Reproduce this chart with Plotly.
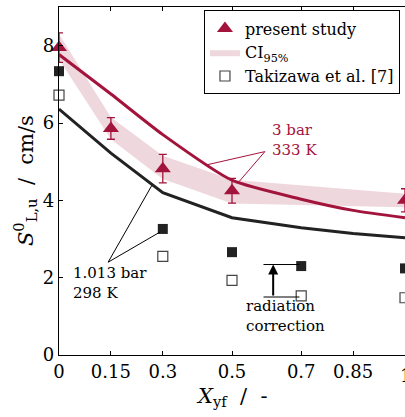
import plotly.graph_objects as go

RED = "#A3143C"
BAND = "rgba(163,20,60,0.17)"
DARK = "#222222"
FONT = "DejaVu Serif"

# present study
x_ps = [0, 0.15, 0.3, 0.5, 1.0]
y_ps = [7.95, 5.86, 4.82, 4.25, 4.0]
err_ps = [0.38, 0.28, 0.37, 0.32, 0.30]

# 95% confidence band
x_ci = [0, 0.15, 0.3, 0.5, 1.0]
ci_hi = [8.30, 6.15, 5.15, 4.53, 4.17]
ci_lo = [7.65, 5.58, 4.55, 3.92, 3.82]

# model curves
x_mod = [0, 0.15, 0.3, 0.5, 0.7, 0.85, 1.0]
y_3bar = [7.77, 6.75, 5.70, 4.52, 4.03, 3.74, 3.55]
y_1bar = [6.36, 5.22, 4.20, 3.55, 3.29, 3.14, 3.03]

# Takizawa et al.
x_tk = [0, 0.3, 0.5, 0.7, 1.0]
y_tk_corr = [7.34, 3.26, 2.66, 2.30, 2.24]
y_tk_raw = [6.72, 2.55, 1.93, 1.53, 1.48]

x_ticks = [0, 0.15, 0.3, 0.5, 0.7, 0.85, 1]
x_ticklabels = ["0", "0.15", "0.3", "0.5", "0.7", "0.85", "1"]
y_ticks = [0, 2, 4, 6, 8]

fig = go.Figure()

fig.add_trace(go.Scatter(
    x=x_ci + x_ci[::-1], y=ci_hi + ci_lo[::-1], fill="toself", fillcolor=BAND,
    line=dict(width=0), mode="lines", name="CI<sub>95%</sub>", hoverinfo="skip",
    legendrank=2))

fig.add_trace(go.Scatter(x=x_mod, y=y_1bar, mode="lines",
                         line=dict(color=DARK, width=3), showlegend=False))
fig.add_trace(go.Scatter(x=x_mod, y=y_3bar, mode="lines",
                         line=dict(color=RED, width=3, shape="spline", smoothing=0.6),
                         showlegend=False))

fig.add_trace(go.Scatter(x=x_tk, y=y_tk_corr, mode="markers",
                         marker=dict(symbol="square", size=10, color=DARK),
                         showlegend=False, cliponaxis=False))
fig.add_trace(go.Scatter(x=x_tk, y=y_tk_raw, mode="markers",
                         marker=dict(symbol="square", size=10, color="white",
                                     line=dict(color="#444444", width=1.2)),
                         name="Takizawa et al. [7]", cliponaxis=False, legendrank=3))

fig.add_trace(go.Scatter(x=x_ps, y=y_ps, mode="markers",
                         marker=dict(symbol="triangle-up", size=14, color=RED),
                         error_y=dict(type="data", array=err_ps, color=RED,
                                      thickness=1.3, width=4),
                         name="present study", cliponaxis=False, legendrank=1))

axis_font = dict(family=FONT, size=18, color="black")

fig.update_layout(
    width=405, height=417,
    margin=dict(l=59, r=0, t=7, b=62),
    paper_bgcolor="white", plot_bgcolor="white",
    font=dict(family=FONT, size=16, color="black"),
    showlegend=True,
    legend=dict(x=0.419, y=0.99, xanchor="left", yanchor="top",
                bgcolor="white", bordercolor="black", borderwidth=1,
                font=dict(family=FONT, size=16, color="black"), tracegroupgap=0,
                itemwidth=30),
    xaxis=dict(range=[0, 1.0], tickvals=x_ticks, ticktext=x_ticklabels,
               ticks="inside", ticklen=4, tickcolor="black",
               showline=True, linecolor="black", linewidth=1.3, mirror="allticks",
               showgrid=False, zeroline=True, zerolinecolor="black", zerolinewidth=1.3,
               tickfont=axis_font),
    yaxis=dict(range=[0, 9], tickvals=y_ticks, ticks="inside", ticklen=4,
               tickcolor="black", showline=True, linecolor="black", linewidth=1.3,
               mirror=False, showgrid=False, zeroline=False, tickfont=axis_font),
)

# last tick label, partly cut at the right edge as in the original
fig.add_annotation(text=x_ticklabels[-1], x=x_ticks[-1], xref="x", yref="paper",
                   y=-0.022, yanchor="top", xanchor="center", showarrow=False,
                   font=axis_font)

# axis titles
fig.add_annotation(text="<i>X</i><sub>yf</sub>  /  -", xref="paper", yref="paper",
                   x=0.5, y=-0.121, showarrow=False,
                   font=dict(family=FONT, size=21, color="black"),
                   xanchor="center", yanchor="middle")
fig.add_annotation(text="<i>S</i><sup>0</sup><sub>L,u</sub>  /  cm/s", xref="paper", yref="paper",
                   x=-0.098, y=0.50, showarrow=False, textangle=-90,
                   font=dict(family=FONT, size=21, color="black"),
                   xanchor="center", yanchor="middle")

# 3 bar label and leader lines
fig.add_annotation(text="3 bar<br>333 K", x=0.61, y=5.55, xref="x", yref="y",
                   showarrow=False, align="left", xanchor="left", yanchor="middle",
                   font=dict(family=FONT, size=15, color=RED))
for xe, ye in [(0.428, 4.92), (0.52, 4.48)]:
    fig.add_shape(type="line", x0=0.595, y0=5.26, x1=xe, y1=ye,
                  line=dict(color=RED, width=1))

# 1.013 bar label and leader lines
fig.add_annotation(text="1.013 bar<br>298 K", x=0.035, y=1.85, xref="x", yref="y",
                   showarrow=False, align="left", xanchor="left", yanchor="middle",
                   font=dict(family=FONT, size=15, color="black"))
for xe, ye in [(0.268, 4.38), (0.292, 3.18)]:
    fig.add_shape(type="line", x0=0.142, y0=2.40, x1=xe, y1=ye,
                  line=dict(color="black", width=1))

# radiation correction
fig.add_shape(type="line", x0=0.591, y0=2.34, x1=0.695, y1=2.34,
              line=dict(color="black", width=1))
fig.add_shape(type="line", x0=0.591, y0=1.50, x1=0.695, y1=1.50,
              line=dict(color="black", width=1))
fig.add_annotation(x=0.619, y=2.34, ax=0.619, ay=1.50, xref="x", yref="y",
                   axref="x", ayref="y", showarrow=True, arrowhead=2,
                   arrowsize=1, arrowwidth=2, arrowcolor="black", text="")
fig.add_annotation(text="radiation<br>correction", x=0.535, y=1.0, xref="x", yref="y",
                   showarrow=False, align="left", xanchor="left", yanchor="middle",
                   font=dict(family=FONT, size=15, color="black"))

fig.write_html("out.html")
